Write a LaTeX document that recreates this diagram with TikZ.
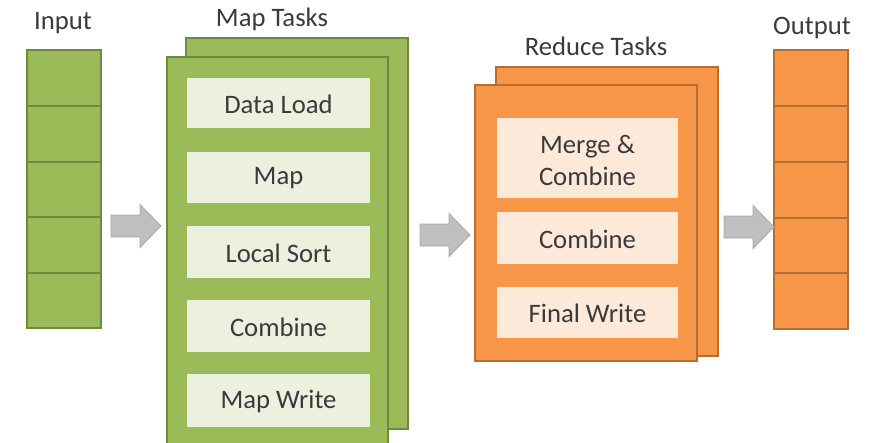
\documentclass[tikz,border=0pt]{standalone}
\usepackage{fontspec}
\setmainfont{Carlito}
\definecolor{gfill}{HTML}{9BBB59}
\definecolor{gline}{HTML}{71893F}
\definecolor{glight}{HTML}{EBF1DE}
\definecolor{ofill}{HTML}{F79646}
\definecolor{oline}{HTML}{B66D31}
\definecolor{olight}{HTML}{FDE9D9}
\definecolor{afill}{HTML}{BFBFBF}
\definecolor{aline}{HTML}{A6A6A6}
\definecolor{txt}{HTML}{3A3A3A}
\begin{document}
\begin{tikzpicture}[x=0.75pt,y=-0.75pt,
  lbl/.style={text=txt,font=\fontsize{20}{24}\selectfont,inner sep=0pt},
  gbox/.style={fill=gfill,draw=gline,line width=1.5pt},
  obox/.style={fill=ofill,draw=oline,line width=1.5pt},
  gstep/.style={fill=glight,draw=none},
  ostep/.style={fill=olight,draw=none},
  garrow/.style={fill=afill,draw=aline,line width=0.6pt,line join=miter}]
\useasboundingbox (0,0) rectangle (879,443);
\clip (0,0) rectangle (879,443);
% Input column
\foreach \i/\a/\b in {1/50/106,2/106/162,3/162/217,4/217/273,5/273/328}{
  \path[gbox] (27,\a) rectangle (101,\b);
  \coordinate (in\i) at (64,{(\a+\b)/2});
}
\node[lbl] (inputlbl) at (63,23) {Input};
% Output column
\foreach \i/\a/\b in {1/50/106,2/106/162,3/162/218,4/218/273,5/273/329}{
  \path[obox] (774,\a) rectangle (848,\b);
  \coordinate (out\i) at (811,{(\a+\b)/2});
}
\node[lbl] (outputlbl) at (812,28) {Output};
% Map tasks
\path[gbox] (186,38) rectangle (408,429);
\path[gbox] (167,57) rectangle (388,450);
\node[lbl] (maplbl) at (272,19) {Map Tasks};
\foreach \n/\a/\b/\t in {m1/78/128/Data Load,m2/152/203/Map,m3/226/278/Local Sort,m4/300/352/Combine,m5/374/427/Map Write}{
  \path[gstep] (187,\a) rectangle (370,\b);
  \node[lbl] (\n) at (278.5,{(\a+\b)/2+1}) {\t};
}
% Reduce tasks
\path[obox] (496,67) rectangle (718,356);
\path[obox] (475,85) rectangle (697,361);
\node[lbl] (redlbl) at (596,46) {Reduce Tasks};
\path[ostep] (497,118) rectangle (678,198);
\node[lbl,align=center] (r1) at (587.5,160) {Merge \&\\Combine};
\foreach \n/\a/\b/\t in {r2/212/264/Combine,r3/287/338/Final Write}{
  \path[ostep] (497,\a) rectangle (678,\b);
  \node[lbl] (\n) at (587.5,{(\a+\b)/2+1}) {\t};
}
% Arrows
\coordinate (a1) at (111,204);
\coordinate (a2) at (420,213);
\coordinate (a3) at (724,205);
\foreach \c in {a1,a2,a3}{
  \path[garrow] ([yshift=-11*0.75pt]\c) -- ++(29,0) -- ++(0,-10.5) -- ++(21,21.5)
    -- ++(-21,21.5) -- ++(0,-10.5) -- ++(-29,0) -- cycle;
}
\end{tikzpicture}
\end{document}
